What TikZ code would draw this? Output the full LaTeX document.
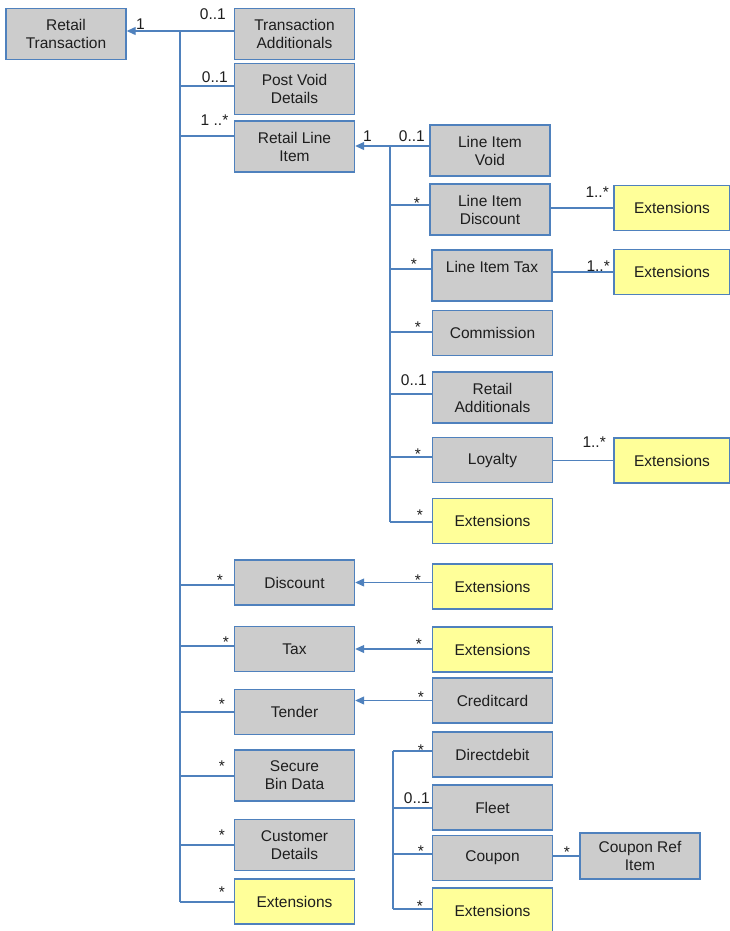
\documentclass[tikz,border=0pt]{standalone}
\usepackage{fontspec}
\setmainfont{Liberation Sans}
\usepackage{xcolor}
\usepackage{tikz}
\usetikzlibrary{arrows.meta, positioning, calc}

\definecolor{umlline}{HTML}{4F81BD}
\definecolor{umlgray}{HTML}{CCCCCC}
\definecolor{umlyellow}{HTML}{FFFF99}
\definecolor{umltext}{HTML}{1E1E1E}
\newcommand{\umlfont}{\fontsize{15.5}{18}\selectfont}

\begin{document}
\begin{tikzpicture}[
		x=1pt, y=-1pt,
		cls/.style={draw=umlline, line width=1.4pt, fill=umlgray, minimum width=120pt, minimum height=45pt, align=center, inner sep=2pt, font=\umlfont, text=umltext},
		tall/.style={minimum height=51pt},
		ext/.style={cls, fill=umlyellow},
		link/.style={draw=umlline, line width=1.2pt},
		arr/.style={link, -{Triangle[length=9pt, width=8pt]}},
		mult/.style={font=\umlfont, text=umltext, inner sep=0pt, anchor=base east}
		]
		\path[use as bounding box, fill=white] (0,0) rectangle (730,931);
		
		% Top level classes
		\node[cls, tall] (rt) at (66,34) {Retail\\Transaction};
		\node[cls, tall] (tadd) at (294.5,34) {Transaction\\Additionals};
		\node[cls, tall] (pvd) at (294.5,89) {Post Void\\Details};
		\node[cls, tall] (rli) at (294.5,146.5) {Retail Line\\Item};
		\node[cls] (disc) at (294.5,582.5) {Discount};
		\node[cls] (tax) at (294.5,649) {Tax};
		\node[cls] (tnd) at (294.5,712) {Tender};
		\node[cls, tall] (sbd) at (294.5,775.5) {Secure\\Bin Data};
		\node[cls, tall] (cud) at (294.5,845) {Customer\\Details};
		\node[ext] (mext) at (294.5,901.5) {Extensions};
		
		% Line item children
		\node[cls, tall] (liv) at (490,150.5) {Line Item\\Void};
		\node[cls, tall] (lid) at (490,209.5) {Line Item\\Discount};
		\node[cls, tall] (lit) at (492,275.5) {Line Item Tax\\ \mbox{}};
		\node[cls] (com) at (492.5,333) {Commission};
		\node[cls, tall] (radd) at (492.5,397.5) {Retail\\Additionals};
		\node[cls] (loy) at (492.5,460) {Loyalty};
		\node[ext] (lext) at (492.5,521) {Extensions};
		\node[ext, minimum width=116pt] (lide) at (672,208) {Extensions};
		\node[ext, minimum width=116pt] (lite) at (672,272) {Extensions};
		\node[ext, minimum width=116pt] (loye) at (672,460.5) {Extensions};
		
		% Discount, tax and tender children
		\node[ext] (dext) at (492.5,586.5) {Extensions};
		\node[ext] (text) at (492.5,649.5) {Extensions};
		\node[cls] (ccd) at (492.5,700.5) {Creditcard};
		\node[cls] (ddb) at (492.5,754.5) {Directdebit};
		\node[cls] (flt) at (492.5,807.5) {Fleet};
		\node[cls] (cpn) at (492.5,858) {Coupon};
		\node[cls, minimum height=46pt] (cri) at (640,856) {Coupon Ref\\Item};
		\node[ext, minimum height=46pt] (pext) at (492.5,911) {Extensions};
		
		% Branch points
		\coordinate (t1) at (180,31);
		\coordinate (t2) at (180,86);
		\coordinate (t3) at (180,136);
		\coordinate (t4) at (180,585);
		\coordinate (t5) at (180,646);
		\coordinate (t6) at (180,712);
		\coordinate (t7) at (180,776);
		\coordinate (t8) at (180,845);
		\coordinate (t9) at (180,902);
		\coordinate (s1) at (390,146);
		\coordinate (s2) at (390,205);
		\coordinate (s3) at (390,269);
		\coordinate (s4) at (390,332);
		\coordinate (s5) at (390,394);
		\coordinate (s6) at (390,457);
		\coordinate (s7) at (390,522);
		\coordinate (b1) at (393,751);
		\coordinate (b2) at (393,808);
		\coordinate (b3) at (393,854);
		\coordinate (b4) at (393,909);
		
		% Retail transaction tree
		\draw[link] (t1) -- (t9);
		\draw[arr] (t1) -- (t1 -| rt.east);
		\draw[link] (t1) -- (t1 -| tadd.west);
		\draw[link] (t2) -- (t2 -| pvd.west);
		\draw[link] (t3) -- (t3 -| rli.west);
		\draw[link] (t4) -- (t4 -| disc.west);
		\draw[link] (t5) -- (t5 -| tax.west);
		\draw[link] (t6) -- (t6 -| tnd.west);
		\draw[link] (t7) -- (t7 -| sbd.west);
		\draw[link] (t8) -- (t8 -| cud.west);
		\draw[link] (t9) -- (t9 -| mext.west);
		\node[mult, anchor=base west] (m0) at (136,30) {1};
		\node[mult] (m1) at (226,20) {0..1};
		\node[mult] (m2) at (228,83) {0..1};
		\node[mult] (m3) at (228.5,125) {1 ..*};
		\node[mult] (m4) at (223,585) {*};
		\node[mult] (m5) at (229,647) {*};
		\node[mult] (m6) at (225,709) {*};
		\node[mult] (m7) at (225,771) {*};
		\node[mult] (m8) at (225,840) {*};
		\node[mult] (m9) at (225,897) {*};
		
		% Retail line item tree
		\draw[link] (s1) -- (s7);
		\draw[arr] (s1) -- (s1 -| rli.east);
		\draw[link] (s1) -- (s1 -| liv.west);
		\draw[link] (s2) -- (s2 -| lid.west);
		\draw[link] (s3) -- (s3 -| lit.west);
		\draw[link] (s4) -- (s4 -| com.west);
		\draw[link] (s5) -- (s5 -| radd.west);
		\draw[link] (s6) -- (s6 -| loy.west);
		\draw[link] (s7) -- (s7 -| lext.west);
		\draw[link] (lid.east |- lide) -- (lide);
		\draw[link] (lit.east |- lite) -- (lite);
		\draw[link] (loy.east |- loye) -- (loye);
		\node[mult, anchor=base west] (n0) at (363,142) {1};
		\node[mult] (n1) at (425,142) {0..1};
		\node[mult] (n2) at (420,208) {*};
		\node[mult] (n3) at (417,269) {*};
		\node[mult] (n4) at (421,332) {*};
		\node[mult] (n5) at (427,385) {0..1};
		\node[mult] (n6) at (421,459) {*};
		\node[mult] (n7) at (423,520) {*};
		\node[mult] (n8) at (609,197) {1..*};
		\node[mult] (n9) at (610,271) {1..*};
		\node[mult] (n10) at (606,447) {1..*};
		
		% Extensions of discount, tax and tender
		\draw[arr] (dext.west |- disc) -- (disc);
		\draw[arr] (text.west |- tax) -- (tax);
		\draw[arr] (ccd) -- (ccd -| tnd.east);
		\node[mult] (p1) at (421,585) {*};
		\node[mult] (p2) at (422,649) {*};
		\node[mult] (p3) at (424,702) {*};
		
		% Payment group
		\draw[link] (b1) -- (b4);
		\draw[link] (b1) -- (b1 -| ddb.west);
		\draw[link] (b2) -- (b2 -| flt.west);
		\draw[link] (b3) -- (b3 -| cpn.west);
		\draw[link] (b4) -- (b4 -| pext.west);
		\draw[link] (cpn.east |- cri) -- (cri);
		\node[mult] (q1) at (424,755) {*};
		\node[mult] (q2) at (430,803) {0..1};
		\node[mult] (q3) at (424,856) {*};
		\node[mult] (q4) at (423,911) {*};
		\node[mult] (q5) at (570,857) {*};
	\end{tikzpicture}
\end{document}
